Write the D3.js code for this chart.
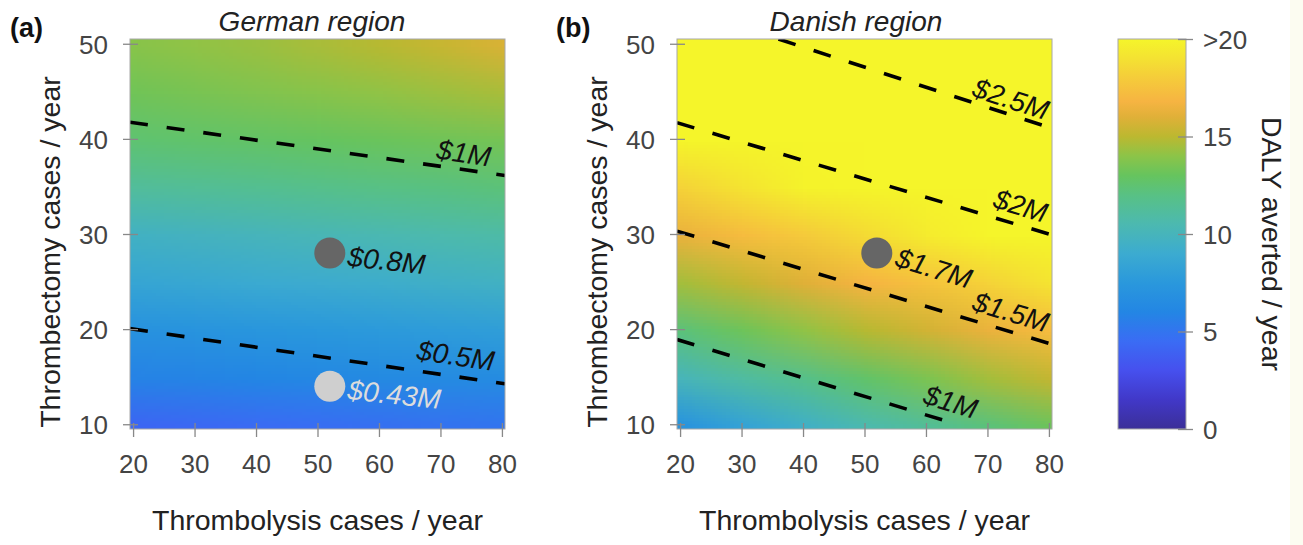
<!DOCTYPE html>
<html>
<head>
<meta charset="utf-8">
<script src="https://cdn.jsdelivr.net/npm/d3@7"></script>
<style>
html, body { margin: 0; padding: 0; background: #fff; }
svg { display: block; font-family: "Liberation Sans", Arial, Helvetica, sans-serif; }
</style>
</head>
<body>
<svg width="1303" height="545"></svg>
<script>
const width = 1303;
const height = 545;

// grid of the heat maps (thrombolysis x thrombectomy)
const gridX = [20, 30, 40, 50, 60, 70, 80];
const gridY = [10, 15, 20, 25, 30, 35, 40, 45, 50];

// DALY averted / year, one row per gridY value (bottom row first)
const germanDaly = [
	[4.2, 4.35, 4.5, 4.6, 4.75, 4.9, 5.0],
	[5.8, 5.9, 6.0, 6.15, 6.3, 6.4, 6.5],
	[7.0, 7.15, 7.3, 7.5, 7.65, 7.8, 8.0],
	[8.5, 8.7, 8.9, 9.05, 9.2, 9.4, 9.6],
	[9.6, 9.8, 10.0, 10.2, 10.4, 10.6, 10.8],
	[11.2, 11.4, 11.55, 11.75, 11.95, 12.1, 12.3],
	[12.5, 12.65, 12.8, 12.95, 13.1, 13.25, 13.4],
	[13.3, 13.5, 13.7, 13.9, 14.1, 14.35, 14.6],
	[13.9, 14.1, 14.3, 14.6, 14.9, 15.3, 15.8]
];
const danishDaly = [
	[7.2, 8.4, 9.5, 10.6, 11.4, 12.3, 13.2],
	[10.1, 11.0, 11.8, 12.7, 13.6, 14.5, 15.2],
	[12.3, 13.2, 14.1, 14.9, 15.6, 16.4, 17.2],
	[14.5, 15.2, 16.0, 16.8, 17.5, 18.3, 19.1],
	[16.4, 17.2, 17.9, 18.7, 19.5, 20.3, 21.0],
	[18.3, 19.1, 19.9, 20.6, 21.4, 22.2, 23.0],
	[20.3, 21.0, 21.8, 22.6, 23.3, 24.1, 24.9],
	[22.2, 23.0, 23.7, 24.5, 25.3, 26.0, 26.8],
	[24.0, 25.0, 25.7, 26.4, 27.2, 28.0, 28.7]
];

// cost iso-lines: label, start and end point in data units
const germanLines = [
	{ label: '$1M', x1: 19.5, y1: 41.75, x2: 80.5, y2: 36.15 },
	{ label: '$0.5M', x1: 19.5, y1: 20.05, x2: 80.5, y2: 14.25 }
];
const danishLines = [
	{ label: '$2.5M', x1: 36, y1: 50.5, x2: 80.5, y2: 41.1 },
	{ label: '$2M', x1: 19.5, y1: 41.7, x2: 80.5, y2: 29.9 },
	{ label: '$1.5M', x1: 19.5, y1: 30.3, x2: 80.5, y2: 18.4 },
	{ label: '$1M', x1: 19.5, y1: 18.9, x2: 65, y2: 10.0 }
];
// where each line label starts (data units)
const germanLineLabels = [[69.2, 37.9], [66.0, 16.8]];
const danishLineLabels = [[67.3, 44.5], [70.7, 32.8], [67.3, 22.0], [59.3, 12.2]];

// current regions
const germanPoints = [
	{ x: 52, y: 28, label: '$0.8M', dark: true },
	{ x: 52, y: 14, label: '$0.43M', dark: false }
];
const danishPoints = [
	{ x: 52, y: 28, label: '$1.7M', dark: true }
];

const xTicks = [20, 30, 40, 50, 60, 70, 80];
const yTicks = [10, 20, 30, 40, 50];
const cbTicks = [0, 5, 10, 15, 20];
const cbTickLabels = ['0', '5', '10', '15', '>20'];

// parula-like colour map
const cmapValues = [0, 1.5, 3, 4.5, 6, 7.5, 9, 10.5, 12, 13, 14, 15, 16, 16.8, 18, 19, 20];
const cmapColors = ['#3b2f98', '#4138c8', '#4650ee', '#3a6cf4', '#2386e4', '#2a98dc', '#3cabd0',
	'#4cb9b0', '#58c184', '#66c45e', '#8cc448', '#bcb830', '#e0b038', '#f6b442', '#f5cc3a',
	'#f4e232', '#f5f52a'];
const color = d3.scaleLinear().domain(cmapValues).range(cmapColors).clamp(true);

const svg = d3.select('svg')
	.attr('width', width)
	.attr('height', height);

// faint cream edge of the scanned figure
svg.append('rect').attr('x', 1290).attr('y', 0).attr('width', 13).attr('height', height).attr('fill', '#fcfcf1');

const plotTop = 39, plotBottom = 429;
const tickColor = '#444';
const fontTick = 26;
const fontLabel = 28.5;

const drawPanel = (opts) => {
	const x = d3.scaleLinear().domain([19.5, 80.5]).range([opts.left, opts.left + 375]);
	const y = d3.scaleLinear().domain([9.5, 50.5]).range([plotBottom, plotTop]);
	const g = svg.append('g');

	const clipId = 'clip-' + opts.id;
	g.append('clipPath').attr('id', clipId)
		.append('rect')
		.attr('x', x.range()[0]).attr('y', plotTop)
		.attr('width', x.range()[1] - x.range()[0]).attr('height', plotBottom - plotTop);

	// heat map: one canvas pixel per grid cell, smoothed by the browser
	const canvas = document.createElement('canvas');
	canvas.width = gridX.length;
	canvas.height = gridY.length;
	const ctx = canvas.getContext('2d');
	opts.daly.forEach((row, j) => {
		row.forEach((v, i) => {
			ctx.fillStyle = color(v);
			ctx.fillRect(i, gridY.length - 1 - j, 1, 1);
		});
	});
	g.append('g').attr('clip-path', `url(#${clipId})`)
		.append('image')
		.attr('href', canvas.toDataURL())
		.attr('x', x(15)).attr('y', y(52.5))
		.attr('width', x(85) - x(15)).attr('height', y(7.5) - y(52.5))
		.attr('preserveAspectRatio', 'none');

	// cost lines
	const lineG = g.append('g').attr('clip-path', `url(#${clipId})`);
	lineG.selectAll('line').data(opts.lines).enter().append('line')
		.attr('x1', d => x(d.x1)).attr('y1', d => y(d.y1))
		.attr('x2', d => x(d.x2)).attr('y2', d => y(d.y2))
		.attr('stroke', '#000')
		.attr('stroke-width', 3.6)
		.attr('stroke-dasharray', '18,19');

	g.selectAll('.cost-label').data(opts.lines).enter().append('text')
		.attr('class', 'cost-label')
		.attr('transform', (d, i) => {
			const p = opts.lineLabels[i];
			const ang = Math.atan2(y(d.y2) - y(d.y1), x(d.x2) - x(d.x1)) * 180 / Math.PI;
			return `translate(${x(p[0])},${y(p[1])}) rotate(${ang})`;
		})
		.attr('font-size', 28)
		.attr('font-style', 'italic')
		.attr('fill', '#111')
		.text(d => d.label);

	// current situation points
	g.selectAll('circle').data(opts.points).enter().append('circle')
		.attr('cx', d => x(d.x)).attr('cy', d => y(d.y))
		.attr('r', 15.5)
		.attr('fill', d => d.dark ? '#666' : '#cfcfcf');

	g.selectAll('.pt-label').data(opts.points).enter().append('text')
		.attr('class', 'pt-label')
		.attr('transform', d => `translate(${x(d.x) + 17},${y(d.y) + 13}) rotate(${opts.pointAngle})`)
		.attr('font-size', 28)
		.attr('font-style', 'italic')
		.attr('fill', d => d.dark ? '#111' : '#dcdcdc')
		.text(d => d.label);

	// frame
	g.append('rect')
		.attr('x', x.range()[0]).attr('y', plotTop)
		.attr('width', x.range()[1] - x.range()[0]).attr('height', plotBottom - plotTop)
		.attr('fill', 'none').attr('stroke', '#a8a8a8').attr('stroke-width', 1);

	// axes
	const yAxisG = g.append('g')
		.attr('transform', `translate(${x.range()[0]},0)`)
		.call(d3.axisLeft(y).tickValues(yTicks).tickFormat(d3.format('d')));
	yAxisG.select('.domain').remove();
	yAxisG.selectAll('.tick line').attr('x1', 8).attr('x2', -7).attr('stroke', '#888').attr('stroke-width', 1.3);
	yAxisG.selectAll('.tick text').attr('x', -22).attr('dy', '0.36em')
		.attr('font-size', fontTick).attr('font-family', null).attr('fill', tickColor);

	const xAxisG = g.append('g')
		.attr('transform', `translate(0,${plotBottom})`)
		.call(d3.axisBottom(x).tickValues(xTicks).tickFormat(d3.format('d')));
	xAxisG.select('.domain').remove();
	xAxisG.selectAll('.tick line').attr('y1', -6).attr('y2', 8).attr('stroke', '#888').attr('stroke-width', 1.3);
	xAxisG.selectAll('.tick text').attr('y', 44).attr('dy', 0)
		.attr('font-size', fontTick).attr('font-family', null).attr('fill', tickColor);

	const cx = (x.range()[0] + x.range()[1]) / 2;
	g.append('text')
		.attr('x', cx).attr('y', 530)
		.attr('text-anchor', 'middle')
		.attr('font-size', fontLabel).attr('fill', '#222')
		.text('Thrombolysis cases / year');
	g.append('text')
		.attr('transform', `translate(${opts.yLabelX},252) rotate(-90)`)
		.attr('text-anchor', 'middle')
		.attr('font-size', fontLabel).attr('fill', '#222')
		.text('Thrombectomy cases / year');
	g.append('text')
		.attr('x', opts.titleX).attr('y', 31)
		.attr('text-anchor', 'middle')
		.attr('font-size', 28).attr('font-style', 'italic').attr('fill', '#222')
		.text(opts.title);
	g.append('text')
		.attr('x', opts.letterX).attr('y', 37)
		.attr('font-size', 27).attr('font-weight', 'bold').attr('fill', '#111')
		.text(opts.letter);
};

drawPanel({
	id: 'a', left: 130, daly: germanDaly, lines: germanLines, lineLabels: germanLineLabels,
	points: germanPoints, pointAngle: 6, title: 'German region', titleX: 312, letter: '(a)', letterX: 10, yLabelX: 60
});
drawPanel({
	id: 'b', left: 677, daly: danishDaly, lines: danishLines, lineLabels: danishLineLabels,
	points: danishPoints, pointAngle: 17, title: 'Danish region', titleX: 856, letter: '(b)', letterX: 556, yLabelX: 607
});

// colour bar
const cb = d3.scaleLinear().domain([0, 20]).range([plotBottom, plotTop]);
const defs = svg.append('defs');
const grad = defs.append('linearGradient').attr('id', 'cbgrad')
	.attr('x1', 0).attr('y1', 1).attr('x2', 0).attr('y2', 0);
grad.selectAll('stop').data(cmapValues).enter().append('stop')
	.attr('offset', d => d / 20)
	.attr('stop-color', (d, i) => cmapColors[i]);
svg.append('rect')
	.attr('x', 1118).attr('y', cb(20))
	.attr('width', 68).attr('height', cb(0) - cb(20))
	.attr('fill', 'url(#cbgrad)')
	.attr('stroke', '#a8a8a8').attr('stroke-width', 1);
const cbAxis = svg.append('g')
	.attr('transform', 'translate(1186,0)')
	.call(d3.axisRight(cb).tickValues(cbTicks).tickFormat((d, i) => cbTickLabels[i]));
cbAxis.select('.domain').remove();
cbAxis.selectAll('.tick line').attr('x1', -8).attr('x2', 7).attr('stroke', '#888').attr('stroke-width', 1.3);
cbAxis.selectAll('.tick text').attr('x', 17).attr('dy', '0.36em')
	.attr('font-size', fontTick).attr('font-family', null).attr('fill', tickColor);
svg.append('text')
	.attr('transform', `translate(1262,${(plotTop + plotBottom) / 2 + 10}) rotate(90)`)
	.attr('text-anchor', 'middle')
	.attr('font-size', fontLabel).attr('fill', '#222')
	.text('DALY averted / year');
</script>
</body>
</html>
